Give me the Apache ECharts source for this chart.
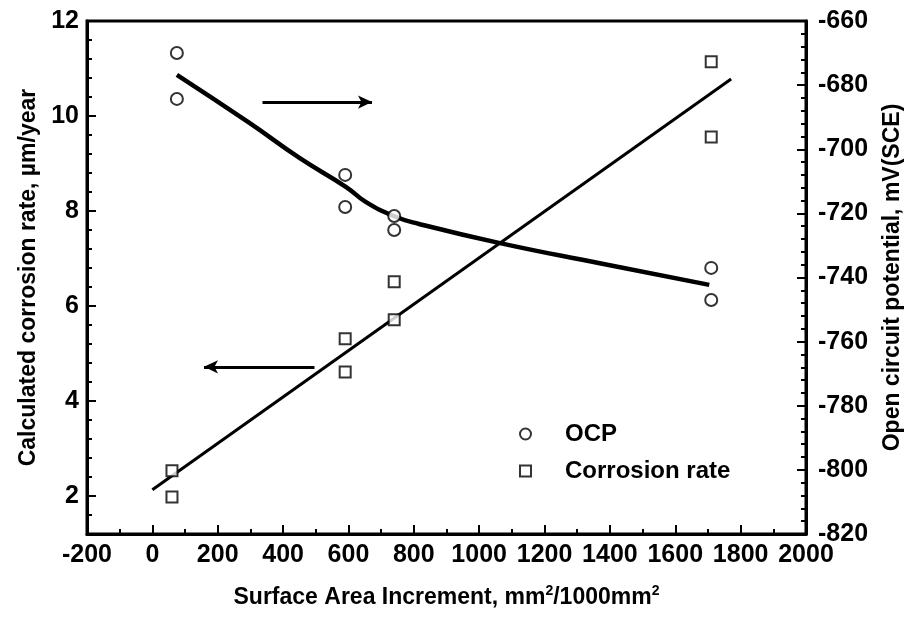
<!DOCTYPE html>
<html>
<head>
<meta charset="utf-8">
<script src="https://cdn.jsdelivr.net/npm/echarts@6/dist/echarts.min.js"></script>
<style>
  html, body { margin: 0; padding: 0; background: #fff; }
  #container { width: 912px; height: 625px; }
</style>
</head>
<body>
<div id="container"></div>
<script>
var dom = document.getElementById("container");
var myChart = echarts.init(dom);

// measured points
var ocpX = [75, 75, 590, 590, 740, 740, 1710, 1710];
var ocpY = [-670.0, -684.3, -708.0, -718.0, -720.8, -725.2, -737.0, -747.0];
var rateX = [60, 60, 590, 590, 740, 740, 1710, 1710];
var rateY = [2.53, 1.98, 5.31, 4.61, 6.51, 5.71, 11.14, 9.56];

// fitted curves
var ocpFitX = [75, 297, 450, 593, 654, 740, 816, 1060, 1365, 1704];
var ocpFitY = [-676.8, -691.8, -702.7, -711.8, -716.5, -720.9, -723.3, -729.2, -735.5, -742.3];
var rateFitX = [0, 1771];
var rateFitY = [2.13, 10.78];

var leftTicks = [2, 4, 6, 8, 10, 12];

function pairs(xs, ys) {
    return xs.map(function (x, i) { return [x, ys[i]]; });
}
function plain(v) { return String(v); }

var font = 'Liberation Sans, Arial, sans-serif';
var labelStyle = { color: '#000', fontSize: 25, fontWeight: 'bold', fontFamily: font, formatter: plain };
var nameStyle = { color: '#000', fontSize: 23, fontWeight: 'bold', fontFamily: font };

option = {
    animation: false,
    backgroundColor: '#fff',
    grid: {
        left: 87, right: 104, top: 21, bottom: 91,
        show: true, borderColor: '#000', borderWidth: 3
    },
    legend: {
        orient: 'vertical',
        left: 514,
        top: 416,
        itemWidth: 11,
        itemHeight: 11,
        itemGap: 11,
        data: ['OCP', 'Corrosion rate'],
        textStyle: { color: '#000', fontSize: 24, fontWeight: 'bold', fontFamily: font, lineHeight: 26, padding: [0, 0, 0, 29] }
    },
    xAxis: {
        type: 'value',
        min: -200, max: 2000, interval: 200,
        name: 'Surface Area Increment, mm{sup|2}/1000mm{sup|2}',
        nameLocation: 'middle',
        nameGap: 50,
        nameTextStyle: Object.assign({}, nameStyle, {
            rich: { sup: { fontSize: 14, fontWeight: 'bold', fontFamily: font, color: '#000', verticalAlign: 'top', padding: [0, 0, 14, 0] } }
        }),
        axisLine: { onZero: false, lineStyle: { color: '#000', width: 3 } },
        axisTick: { inside: true, length: 9, lineStyle: { color: '#000', width: 2 } },
        minorTick: { show: true, splitNumber: 2, length: 5, lineStyle: { color: '#000', width: 2 } },
        axisLabel: Object.assign({ margin: 9 }, labelStyle),
        splitLine: { show: false }
    },
    yAxis: [{
        type: 'value',
        min: 1.2, max: 12,
        position: 'left',
        name: 'Calculated corrosion rate, \u00b5m/year',
        nameLocation: 'middle',
        nameGap: 46,
        nameTextStyle: nameStyle,
        axisLine: { show: true, onZero: false, lineStyle: { color: '#000', width: 3 } },
        axisTick: { show: true, inside: true, length: 9, customValues: leftTicks, lineStyle: { color: '#000', width: 2 } },
        axisLabel: Object.assign({ margin: 8, customValues: leftTicks }, labelStyle),
        splitLine: { show: false }
    }, {
        type: 'value',
        min: -820, max: -660, interval: 20,
        position: 'right',
        name: 'Open circuit potential, mV(SCE)',
        nameLocation: 'middle',
        nameGap: 75,
        nameRotate: 90,
        nameTextStyle: nameStyle,
        axisLine: { show: true, onZero: false, lineStyle: { color: '#000', width: 3 } },
        axisTick: { show: true, inside: true, length: 9, lineStyle: { color: '#000', width: 2 } },
        minorTick: { show: true, splitNumber: 5, length: 5, lineStyle: { color: '#000', width: 2 } },
        axisLabel: Object.assign({ margin: 12 }, labelStyle),
        splitLine: { show: false }
    }, {
        // minor ticks of the left axis
        type: 'value',
        min: 1.2, max: 12, interval: 0.4,
        position: 'left',
        axisLine: { show: false, onZero: false },
        axisTick: { show: true, inside: true, length: 5, lineStyle: { color: '#000', width: 2 } },
        axisLabel: { show: false },
        splitLine: { show: false }
    }],
    series: [{
        name: 'OCP fit',
        type: 'line',
        yAxisIndex: 1,
        data: pairs(ocpFitX, ocpFitY),
        smooth: 0.5,
        showSymbol: false,
        silent: true,
        lineStyle: { color: '#000', width: 4.5 },
        markLine: {
            silent: true,
            symbol: ['none', 'arrow'],
            symbolSize: [10, 14],
            label: { show: false },
            lineStyle: { color: '#000', width: 3, type: 'solid' },
            data: [[{ coord: [337, -685.3] }, { coord: [672, -685.3] }]]
        }
    }, {
        name: 'Rate fit',
        type: 'line',
        data: pairs(rateFitX, rateFitY),
        showSymbol: false,
        silent: true,
        lineStyle: { color: '#000', width: 3 },
        markLine: {
            silent: true,
            symbol: ['none', 'arrow'],
            symbolSize: [10, 14],
            label: { show: false },
            lineStyle: { color: '#000', width: 3, type: 'solid' },
            data: [[{ coord: [496, 4.72] }, { coord: [158, 4.72] }]]
        }
    }, {
        name: 'OCP',
        type: 'scatter',
        yAxisIndex: 1,
        symbol: 'circle',
        symbolSize: 12,
        data: pairs(ocpX, ocpY),
        itemStyle: { color: '#fff', borderColor: '#000', borderWidth: 2 },
        z: 5
    }, {
        name: 'Corrosion rate',
        type: 'scatter',
        symbol: 'rect',
        symbolSize: 11,
        data: pairs(rateX, rateY),
        itemStyle: { color: '#fff', borderColor: '#000', borderWidth: 2 },
        z: 5
    }]
};

myChart.setOption(option);
</script>
</body>
</html>
